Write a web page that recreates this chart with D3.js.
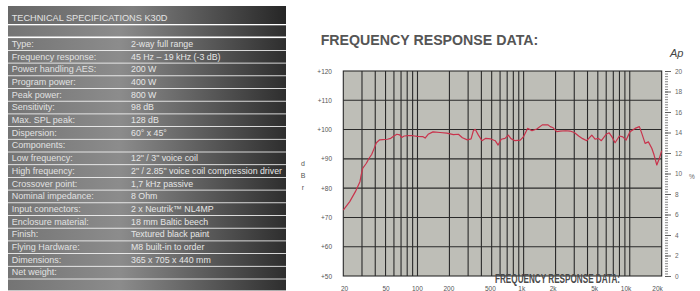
<!DOCTYPE html>
<html>
<head>
<meta charset="utf-8">
<script src="https://cdn.jsdelivr.net/npm/d3@7"></script>
<style>
  body { margin: 0; background: #fff; }
  svg { display: block; font-family: "Liberation Sans", Arial, sans-serif; }
</style>
</head>
<body>
<div id="chart"></div>
<script>
// spec table
const tableTitle = "TECHNICAL SPECIFICATIONS K30D";
const specLabels = ["Type:", "Frequency response:", "Power handling AES:", "Program power:", "Peak power:",
    "Sensitivity:", "Max. SPL peak:", "Dispersion:", "Components:", "Low frequency:", "High frequency:",
    "Crossover point:", "Nominal impedance:", "Input connectors:", "Enclosure material:", "Finish:",
    "Flying Hardware:", "Dimensions:", "Net weight:"];
const specValues = ["2-way full range", "45 Hz \u2013 19 kHz (-3 dB)", "200 W", "400 W", "800 W",
    "98 dB", "128 dB", "60\u00b0 x 45\u00b0", "", "12\" / 3\" voice coil",
    "2\" / 2.85\" voice coil compression driver", "1,7 kHz passive", "8 Ohm", "2 x Neutrik\u2122 NL4MP",
    "18 mm Baltic beech", "Textured black paint", "M8 built-in to order", "365 x 705 x 440 mm", ""];

// frequency response
const chartTitle = "FREQUENCY RESPONSE DATA:";
const freqLabels = [20, 50, 100, 200, 500, 1000, 2000, 5000, 10000, 20000];
const dbTicks = [50, 60, 70, 80, 90, 100, 110, 120];
const pctTicks = [0, 2, 4, 6, 8, 10, 12, 14, 16, 18, 20];
const freq = [20, 23, 26, 28.7, 29.5, 30.5, 33, 35, 37, 39, 41, 44, 47, 52, 56, 60, 64, 68, 71, 75,
    82, 90, 100, 112, 118, 126, 140, 163, 189, 218, 243, 265, 295, 320, 336, 350, 375, 405, 440, 490,
    540, 575, 615, 668, 718, 760, 830, 930, 1000, 1090, 1200, 1330, 1500, 1700, 1780, 1900, 2050, 2200,
    2500, 2740, 3000, 3300, 3600, 3936, 4388, 4712, 5063, 5400, 6000, 6400, 6800, 7274, 7990, 8600,
    9236, 10074, 11230, 12328, 12986, 13952, 14984, 16130, 16960, 17980, 19026, 20000];
const spl = [72.5, 75.4, 78.8, 82.2, 84.5, 86.8, 88.5, 90.2, 91.5, 93.5, 95.5, 96.5, 96.6, 96.7, 97.0,
    97.8, 98.4, 98.2, 97.3, 97.8, 97.9, 97.9, 97.7, 97.6, 97.1, 98.4, 99.2, 99.0, 98.8, 98.3, 98.4,
    97.2, 96.5, 96.8, 99.6, 100.1, 98.1, 96.2, 97.0, 96.8, 96.2, 94.7, 96.7, 97.0, 98.1, 96.9, 96.2,
    96.4, 97.6, 100.4, 99.6, 100.2, 101.6, 101.6, 101.0, 100.6, 99.3, 99.5, 99.6, 99.5, 99.0, 97.8,
    96.9, 96.2, 98.1, 96.7, 97.0, 96.2, 98.4, 98.9, 97.5, 95.5, 97.8, 97.5, 96.4, 99.3, 100.4, 101.0,
    98.7, 95.3, 95.8, 93.6, 91.3, 87.9, 90.2, 92.8];

const W = 700, H = 291;
const svg = d3.select("#chart").append("svg").attr("width", W).attr("height", H);

// ---------- left table ----------
const defs = svg.append("defs");
const grad = defs.append("linearGradient").attr("id", "rowgrad")
    .attr("gradientUnits", "userSpaceOnUse").attr("x1", 8).attr("x2", 286).attr("y1", 0).attr("y2", 0);
grad.append("stop").attr("offset", "0%").attr("stop-color", "#747474");
grad.append("stop").attr("offset", "40%").attr("stop-color", "#8c8c8c");
grad.append("stop").attr("offset", "100%").attr("stop-color", "#2e2e2e");
const hgrad = defs.append("linearGradient").attr("id", "headgrad")
    .attr("gradientUnits", "userSpaceOnUse").attr("x1", 8).attr("x2", 286).attr("y1", 0).attr("y2", 0);
hgrad.append("stop").attr("offset", "0%").attr("stop-color", "#686868");
hgrad.append("stop").attr("offset", "45%").attr("stop-color", "#7e7e7e");
hgrad.append("stop").attr("offset", "100%").attr("stop-color", "#262626");

const tx = 8, tw = 278, rowH = 12.7, rowTop = 37.3;
svg.append("rect").attr("x", tx).attr("y", 6).attr("width", tw).attr("height", 18).attr("fill", "url(#headgrad)");
svg.append("text").attr("x", 11.7).attr("y", 21).attr("font-size", 9.2).attr("fill", "#e4e4e4").text(tableTitle);
svg.append("rect").attr("x", tx).attr("y", 25.3).attr("width", tw).attr("height", 11.2).attr("fill", "url(#rowgrad)");

const rows = svg.append("g").selectAll("g").data(specLabels).join("g")
    .attr("transform", (d, i) => `translate(0,${rowTop + i * rowH})`);
rows.append("rect").attr("x", tx).attr("y", 0.8).attr("width", tw).attr("height", rowH - 0.8)
    .attr("fill", "url(#rowgrad)");
rows.append("text").attr("x", 11.7).attr("y", 9.6).attr("font-size", 9).attr("fill", "#e2e2e2").text(d => d);
rows.append("text").attr("x", 131).attr("y", 9.6).attr("font-size", 8.8).attr("fill", "#e6e6e6")
    .text((d, i) => specValues[i])
    .each(function () {
        // keep the long value inside the table like the original
        const w = this.getComputedTextLength();
        if (w > 152) d3.select(this).attr("textLength", 152).attr("lengthAdjust", "spacingAndGlyphs");
    });
svg.append("rect").attr("x", tx).attr("y", rowTop + specLabels.length * rowH + 0.8).attr("width", tw)
    .attr("height", 11).attr("fill", "url(#rowgrad)");

// ---------- frequency response chart ----------
const x = d3.scaleLog().domain([20, 20000]).range([343.3, 661.7]);
const xLab = d3.scaleLog().domain([20, 20000]).range([344, 657]);
const y = d3.scaleLinear().domain([50, 120]).range([276, 71]);
const yR = d3.scaleLinear().domain([0, 20]).range([276, 71]);

svg.append("text").attr("x", 320.7).attr("y", 45).attr("font-size", 14.2).attr("font-weight", "bold")
    .attr("fill", "#555").text(chartTitle);
svg.append("text").attr("x", 670).attr("y", 56.5).attr("font-size", 11).attr("font-style", "italic")
    .attr("fill", "#444").text("Ap");

svg.append("rect").attr("x", x(20)).attr("y", y(120)).attr("width", x(20000) - x(20))
    .attr("height", y(50) - y(120)).attr("fill", "#bebeb7");

const grid = svg.append("g").attr("stroke", "#2a2a2a").attr("stroke-width", 1.1);
const vFreqs = x.ticks().filter(f => f > 20 && f <= 10000);
grid.selectAll("line.v").data(vFreqs).join("line").attr("class", "v")
    .attr("x1", d => x(d)).attr("x2", d => x(d)).attr("y1", y(120)).attr("y2", y(50));
grid.selectAll("line.h").data(dbTicks.slice(1, -1)).join("line").attr("class", "h")
    .attr("x1", x(20)).attr("x2", x(20000)).attr("y1", d => y(d)).attr("y2", d => y(d));
svg.append("rect").attr("x", x(20)).attr("y", y(120)).attr("width", x(20000) - x(20))
    .attr("height", y(50) - y(120)).attr("fill", "none").attr("stroke", "#2a2a2a").attr("stroke-width", 1.1);

// response curve
const pts = freq.map((f, i) => [f, spl[i]]);
svg.append("path").datum(pts)
    .attr("d", d3.line().x(d => x(d[0])).y(d => y(d[1])))
    .attr("fill", "none").attr("stroke", "#c9334c").attr("stroke-width", 1.2).attr("stroke-linejoin", "round");

// left axis
const yAxis = svg.append("g").attr("transform", "translate(332,0)")
    .call(d3.axisLeft(y).tickValues(dbTicks).tickSize(0).tickPadding(0).tickFormat(d => "+" + d));
yAxis.select(".domain").remove();
yAxis.selectAll("text").attr("font-size", 6.5).attr("fill", "#555").attr("font-family", "Liberation Sans, Arial, sans-serif");

["d", "B", "r"].forEach((c, i) => {
    svg.append("text").attr("x", 303).attr("y", 165.5 + i * 12).attr("font-size", 7).attr("fill", "#555")
        .attr("text-anchor", "middle").text(c);
});

// bottom axis labels
const xAxis = svg.append("g").attr("transform", "translate(0,286.3)")
    .call(d3.axisBottom(xLab).tickValues(freqLabels).tickSize(0).tickPadding(0)
        .tickFormat(d => d >= 1000 ? (d / 1000) + "k" : d));
xAxis.select(".domain").remove();
xAxis.selectAll("text").attr("font-size", 6.5).attr("fill", "#555").attr("font-family", "Liberation Sans, Arial, sans-serif");

// right axis with minor ticks
const rAxisMinor = svg.append("g").attr("transform", "translate(665,0)")
    .call(d3.axisRight(yR).tickValues(d3.range(0, 20.01, 0.25)).tickSize(3));
rAxisMinor.select(".domain").remove();
rAxisMinor.selectAll("text").remove();
rAxisMinor.selectAll("line").attr("stroke", "#666").attr("stroke-width", 0.8);
const rAxis = svg.append("g").attr("transform", "translate(665,0)")
    .call(d3.axisRight(yR).tickValues(pctTicks).tickSize(6).tickPadding(4));
rAxis.select(".domain").remove();
rAxis.selectAll("line").attr("stroke", "#555").attr("stroke-width", 0.9);
rAxis.selectAll("text").attr("font-size", 6.5).attr("fill", "#666").attr("font-family", "Liberation Sans, Arial, sans-serif");
svg.append("text").attr("x", 689).attr("y", 179).attr("font-size", 6.5).attr("fill", "#666").text("%");

// overlaid caption
svg.append("text").attr("x", 495).attr("y", 283).attr("font-size", 12.2).attr("font-weight", "bold")
    .attr("font-family", "Liberation Sans Narrow, Liberation Sans, sans-serif")
    .attr("textLength", 125).attr("lengthAdjust", "spacingAndGlyphs")
    .attr("fill", "#4a4a4a").text(chartTitle);
</script>
</body>
</html>
